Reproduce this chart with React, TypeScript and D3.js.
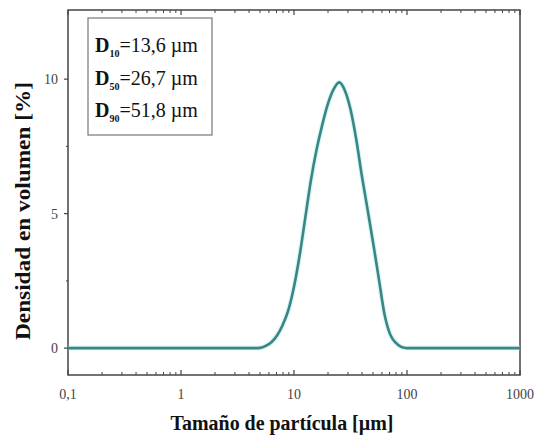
import React from "react";
import * as d3 from "d3";

const sizes = [0.1, 1, 4.47, 5.01, 5.62, 6.31, 7.08, 7.94, 8.91, 10, 11.22, 12.59, 14.13, 15.85, 17.78, 19.95, 22.39, 25.12, 28.18, 31.62, 35.48, 39.81, 44.67, 50.12, 56.23, 63.1, 70.79, 79.43, 89.13, 100, 112.2, 1000];
const density = [0, 0, 0, 0.01, 0.08, 0.22, 0.47, 0.86, 1.41, 2.28, 3.45, 4.85, 6.25, 7.38, 8.3, 9.08, 9.62, 9.88, 9.58, 8.88, 7.78, 6.42, 5.18, 3.92, 2.6, 1.28, 0.52, 0.2, 0.04, 0, 0, 0];
const xTickValues = [0.1, 1, 10, 100, 1000];
const xTickLabels = ["0,1", "1", "10", "100", "1000"];
const yTickValues = [0, 5, 10];
const yMinorValues = [2.5, 7.5];
const legendItems = [
  { sub: "10", val: "=13,6 µm" },
  { sub: "50", val: "=26,7 µm" },
  { sub: "90", val: "=51,8 µm" },
];

const W = 535, H = 439;
const L = 68, R = 520, T = 10, B = 375;

export default function App() {
  const x = d3.scaleLog().domain([0.1, 1000]).range([L, R]);
  const y = d3.scaleLinear().domain([-1, 12.57]).range([B, T]);
  const data = sizes.map((s, i) => ({ s, v: density[i] }));
  const line = d3.line<{ s: number; v: number }>()
    .x(d => x(d.s)).y(d => y(d.v)).curve(d3.curveMonotoneX);

  const minorX: number[] = [];
  for (let e = -1; e < 3; e++) {
    for (let k = 2; k <= 9; k++) minorX.push(k * Math.pow(10, e));
  }
  const axisColor = "#444";
  const font = "'Liberation Serif', 'Times New Roman', serif";

  return (
    <svg width={W} height={H} style={{ position: "fixed", left: 0, top: 0, background: "#fff" }} fontFamily={font}>
      <rect x={0} y={0} width={W} height={H} fill="#fff" />
      <rect x={L} y={T} width={R - L} height={B - T} fill="none" stroke={axisColor} strokeWidth={1.5} />
      {xTickValues.map(v => (
        <g key={"xm" + v}>
          <line x1={x(v)} x2={x(v)} y1={B} y2={B - 5} stroke={axisColor} strokeWidth={1.2} />
          <line x1={x(v)} x2={x(v)} y1={T} y2={T + 5} stroke={axisColor} strokeWidth={1.2} />
        </g>
      ))}
      {minorX.map(v => (
        <g key={"xn" + v}>
          <line x1={x(v)} x2={x(v)} y1={B} y2={B - 3} stroke={axisColor} strokeWidth={1} />
          <line x1={x(v)} x2={x(v)} y1={T} y2={T + 3} stroke={axisColor} strokeWidth={1} />
        </g>
      ))}
      {xTickValues.map((v, i) => (
        <text key={"xl" + v} x={x(v)} y={399} textAnchor="middle" fontSize={14} fill="#444">{xTickLabels[i]}</text>
      ))}
      {yTickValues.map(v => (
        <g key={"ym" + v}>
          <line x1={L - 4} x2={L} y1={y(v)} y2={y(v)} stroke={axisColor} strokeWidth={1.2} />
          <text x={L - 10} y={y(v) + 5} textAnchor="end" fontSize={14} fill="#444">{v}</text>
        </g>
      ))}
      {yMinorValues.map(v => (
        <line key={"yn" + v} x1={L - 2} x2={L} y1={y(v)} y2={y(v)} stroke={axisColor} strokeWidth={1} />
      ))}
      <path d={line(data) || ""} fill="none" stroke="#a8ecec" strokeWidth={5} strokeOpacity={0.45} />
      <path d={line(data) || ""} fill="none" stroke="#3b8584" strokeWidth={2.6} />
      <rect x={88} y={18} width={124} height={117} fill="#fff" stroke="#777" strokeWidth={1.2} />
      {legendItems.map((it, i) => (
        <text key={"lg" + i} x={95} y={52 + i * 32.5} fontSize={20} fill="#111">
          <tspan fontWeight="bold">D</tspan>
          <tspan fontWeight="bold" fontSize={10} dy={5}>{it.sub}</tspan>
          <tspan dy={-5}>{it.val}</tspan>
        </text>
      ))}
      <text x={282} y={430} textAnchor="middle" fontSize={20} fontWeight="bold" fill="#111" textLength={223} lengthAdjust="spacingAndGlyphs">Tamaño de partícula [µm]</text>
      <text transform={`translate(30,211) rotate(-90)`} textAnchor="middle" fontSize={20} fontWeight="bold" fill="#111" textLength={258} lengthAdjust="spacingAndGlyphs">Densidad en volumen [%]</text>
    </svg>
  );
}
